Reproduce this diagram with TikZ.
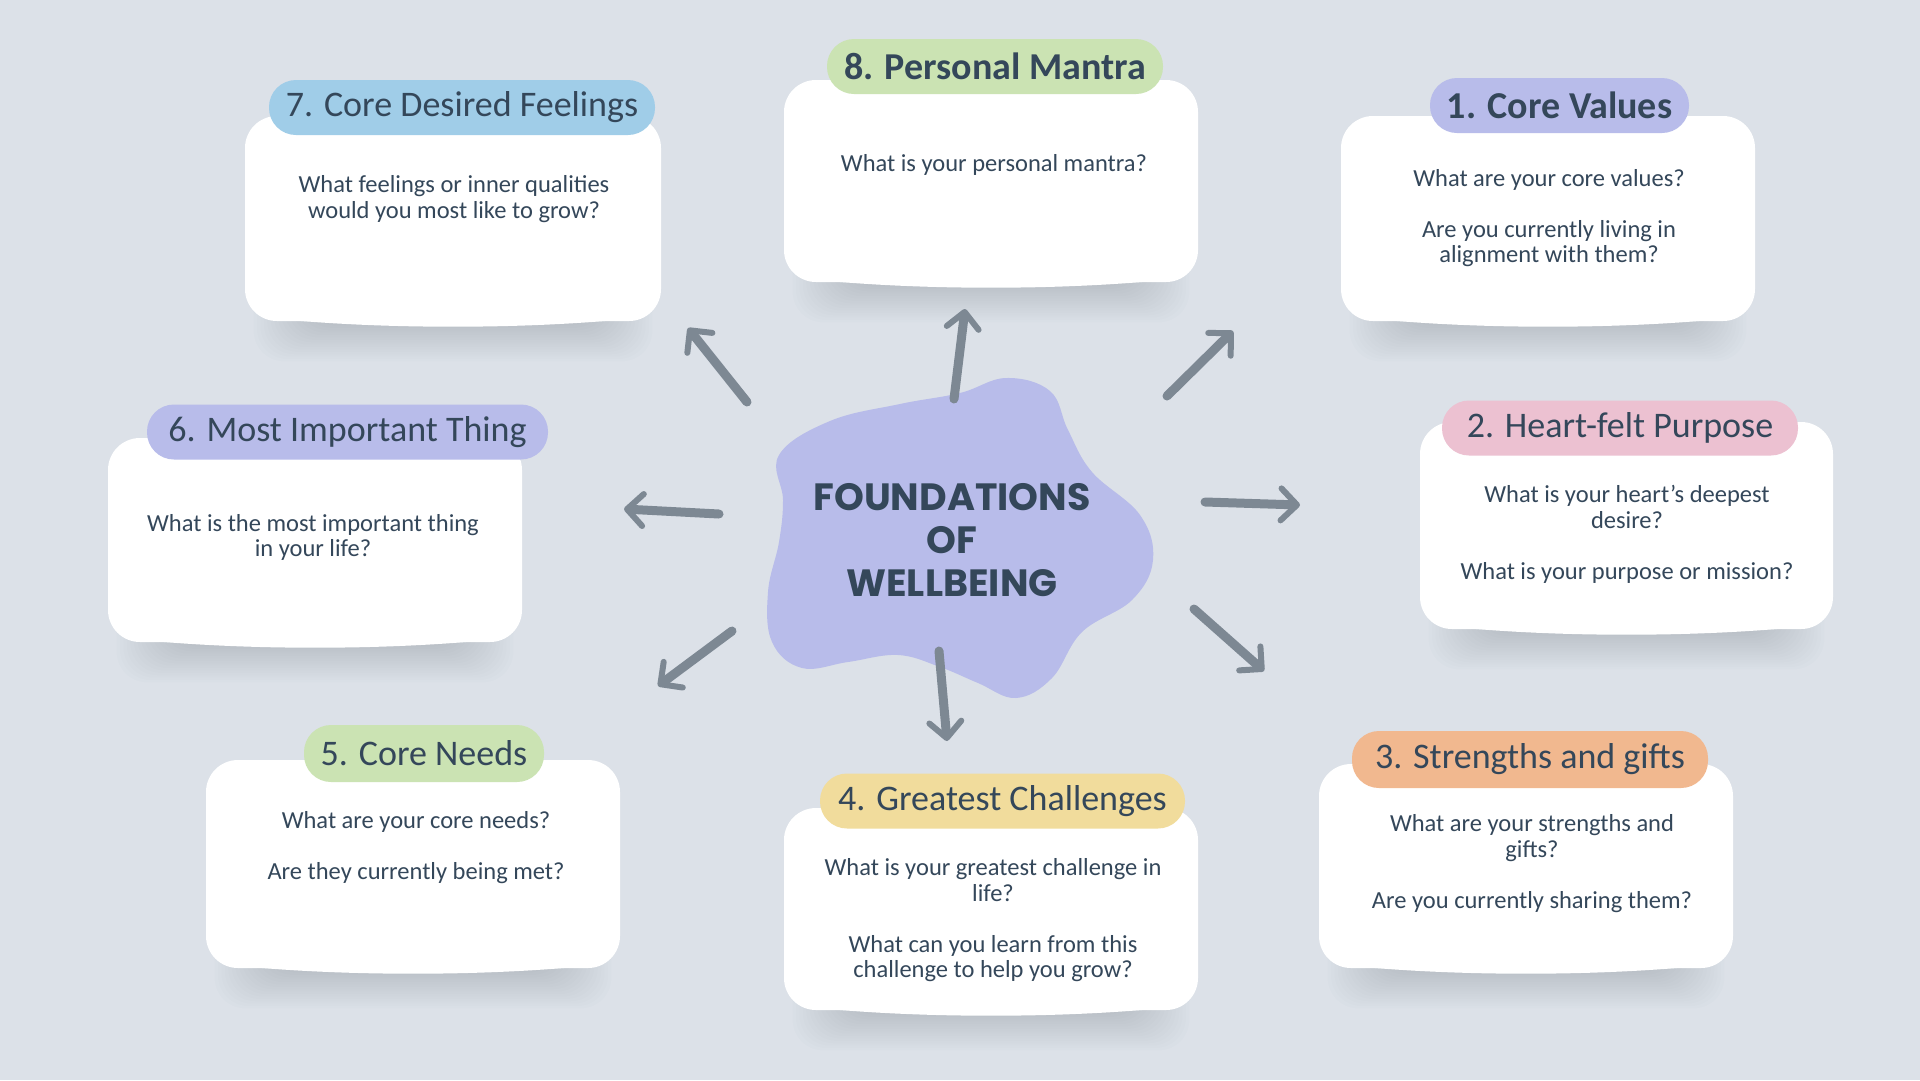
\documentclass[tikz,border=0pt]{standalone}
\usepackage{fontspec}
\setmainfont{Carlito}
\newfontfamily\centerfont{Poppins}
\usetikzlibrary{arrows.meta,calc}
\definecolor{bgc}{HTML}{DCE1E8}
\definecolor{txt}{HTML}{34475A}
\definecolor{arrc}{HTML}{7D8893}
\definecolor{shc}{HTML}{5A6470}
\definecolor{pblue}{HTML}{A0CDE8}
\definecolor{pgreen}{HTML}{CBE3B3}
\definecolor{plav}{HTML}{B8BCEA}
\definecolor{ppink}{HTML}{ECC1D1}
\definecolor{pyellow}{HTML}{F1DC9C}
\definecolor{porange}{HTML}{F1B88F}
\pgfdeclarelayer{bglayer}
\pgfdeclarelayer{shadowlayer}
\pgfsetlayers{bglayer,shadowlayer,main}
\tikzset{
  card/.style={fill=white, draw=none, rounded corners=32pt, inner sep=0pt},
  shadowpiece/.style={fill=shc, opacity=0.017},
  pill/.style={rounded corners=27pt, inner sep=0pt, text=txt, minimum height=55pt, font=\fontsize{36}{40}\selectfont},
  boldpill/.style={pill, font=\fontsize{38}{40}\selectfont\bfseries},
  bodytxt/.style={text=txt, align=center, inner sep=0pt, font=\fontsize{24.5}{25.5}\selectfont},
  arr/.style={draw=arrc, line width=9pt, line cap=round,
    -{Straight Barb[length=16pt,width=32pt,line width=6pt,round]}}
}
\begin{document}
\begin{tikzpicture}[x=1pt,y=-1pt]
\begin{pgfonlayer}{bglayer}
\fill[bgc] (0,0) rectangle (1920,1080);
\end{pgfonlayer}
\useasboundingbox (0,0) rectangle (1920,1080);

% cards
\node[card, minimum width=416pt, minimum height=205pt] (b7) at (453,218.5) {};
\node[card, minimum width=414pt, minimum height=202pt] (b8) at (991,181) {};
\node[card, minimum width=414pt, minimum height=205pt] (b1) at (1548,218.5) {};
\node[card, minimum width=413pt, minimum height=207pt] (b2) at (1626.5,525.5) {};
\node[card, minimum width=414pt, minimum height=204pt] (b6) at (315,540) {};
\node[card, minimum width=414pt, minimum height=208pt] (b5) at (413,864) {};
\node[card, minimum width=414pt, minimum height=202pt] (b4) at (991,909) {};
\node[card, minimum width=414pt, minimum height=204pt] (b3) at (1526,866) {};

% slight bulge of the bottom edges, and soft shadows below the cards
\foreach \b in {b1,b2,b3,b4,b5,b6,b7,b8} {
  \fill[white] ($(\b.south west)+(36,-2)$) .. controls ($(\b.south west)+(140,8)$)
    and ($(\b.south east)+(-140,8)$) .. ($(\b.south east)+(-36,-2)$) -- cycle;
}
\begin{pgfonlayer}{shadowlayer}
\foreach \b in {b1,b2,b3,b4,b5,b6,b7,b8} {
  \foreach \k in {0,...,15} {
    \fill[shadowpiece, rounded corners=30pt]
      ($(\b.south west)+({60-3.4*\k},-80)$) rectangle ($(\b.south east)+({-60+3.4*\k},{4+2.4*\k})$);
  }
}
\end{pgfonlayer}

% title pills
\node[pill, fill=pblue, minimum width=386pt] (p7) at (462,107.5) {7. Core Desired Feelings};
\node[boldpill, fill=pgreen, minimum width=336pt] (p8) at (995,66.5) {8. Personal Mantra};
\node[boldpill, fill=plav, minimum width=259pt] (p1) at (1559.5,105.5) {1. Core Values};
\node[pill, fill=ppink, minimum width=356pt] (p2) at (1620,428) {2. Heart-felt Purpose};
\node[pill, fill=plav, minimum width=401pt] (p6) at (347.5,432) {6. Most Important Thing};
\node[pill, fill=pgreen, minimum width=240pt, minimum height=57pt] (p5) at (424,753.5) {5. Core Needs};
\node[pill, fill=pyellow, minimum width=365pt] (p4) at (1002.5,801) {4. Greatest Challenges};
\node[pill, fill=porange, minimum width=356pt, minimum height=57pt] (p3) at (1530,759.5) {3. Strengths and gifts};

% body texts
\node[bodytxt] (t7) at (454,199) {What feelings or inner qualities\\would you most like to grow?};
\node[bodytxt] (t8) at (994,165) {What is your personal mantra?};
\node[bodytxt] (t1) at (1549,218) {What are your core values?\\[25.5pt]Are you currently living in\\alignment with them?};
\node[bodytxt] (t2) at (1627,534.5) {What is your heart's deepest\\desire?\\[25.5pt]What is your purpose or mission?};
\node[bodytxt] (t6) at (313,537.5) {What is the most important thing\\in your life?};
\node[bodytxt] (t5) at (416,847.5) {What are your core needs?\\[25.5pt]Are they currently being met?};
\node[bodytxt] (t4) at (993,920.5) {What is your greatest challenge in\\life?\\[25.5pt]What can you learn from this\\challenge to help you grow?};
\node[bodytxt] (t3) at (1532,863.5) {What are your strengths and\\gifts?\\[25.5pt]Are you currently sharing them?};

% central blob
\fill[plav] plot[smooth cycle, tension=0.65] coordinates {
  (779,455) (830,421) (900,404) (960,393) (1006,378) (1050,391)
  (1068,430) (1092,472) (1140,515) (1153,560) (1132,600) (1082,632)
  (1052,678) (1016,698) (978,683) (940,667) (898,655) (848,662)
  (802,668) (772,642) (768,592) (779,542) (783,500)};
\node[text=txt, align=center, inner sep=0pt,
  font=\centerfont\bfseries\fontsize{38}{43}\selectfont] (ctr) at (952,540)
  {FOUNDATIONS\\OF\\WELLBEING};

% arrow coordinates
\coordinate (s8) at (954,399);  \coordinate (e8) at (965,309);
\coordinate (s1) at (1167,396); \coordinate (e1) at (1233,331);
\coordinate (s2) at (1205,502); \coordinate (e2) at (1300,505);
\coordinate (s3) at (1194,609); \coordinate (e3) at (1264,671);
\coordinate (s4) at (939,651);  \coordinate (e4) at (947,741);
\coordinate (s5) at (732,631);  \coordinate (e5) at (658,686);
\coordinate (s6) at (719,514);  \coordinate (e6) at (624,509);
\coordinate (s7) at (747,402);  \coordinate (e7) at (688,328);

\foreach \i in {1,...,8} { \draw[arr] (s\i) -- (e\i); }
\end{tikzpicture}
\end{document}
